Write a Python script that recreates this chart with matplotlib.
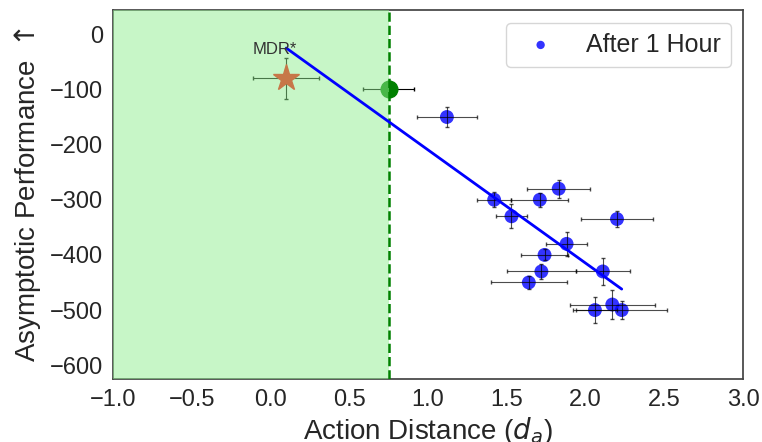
import numpy as np
import matplotlib
matplotlib.use("Agg")
import matplotlib.pyplot as plt
import seaborn as sns

# measurements after 1 hour
dist_x = [1.12, 1.42, 1.71, 1.53, 1.83, 2.20, 1.88, 1.74, 1.72, 2.11, 1.64, 2.17, 2.06, 2.23]
perf_y = [-150, -300, -300, -330, -280, -335, -380, -400, -430, -430, -450, -490, -500, -500]
dist_err = [0.19, 0.11, 0.18, 0.10, 0.20, 0.23, 0.13, 0.15, 0.22, 0.17, 0.24, 0.27, 0.14, 0.29]
perf_err = [18, 14, 13, 22, 16, 14, 22, 10, 14, 25, 12, 26, 24, 17]

# threshold point and MDR* reference
thr_x, thr_y, thr_xerr, thr_yerr = 0.75, -100, 0.16, 8
mdr_x, mdr_y, mdr_xerr, mdr_yerr = 0.1, -80, 0.21, 37

# fitted trend line end points
fit_x = [0.1, 2.23]
fit_y = [-25, -462]

sns.set_style("white")
plt.rcParams["font.family"] = ["Liberation Sans", "DejaVu Sans"]

fig = plt.figure(figsize=(7.62, 4.42), dpi=100)
ax = fig.add_axes([113 / 762, 1 - 379 / 442, 630 / 762, 369 / 442])

ax.errorbar(mdr_x, mdr_y, xerr=mdr_xerr, yerr=mdr_yerr, fmt="*", color="red",
            ms=20, ecolor="k", elinewidth=0.8, capsize=1.5, zorder=2)
ax.errorbar(thr_x, thr_y, xerr=thr_xerr, yerr=thr_yerr, fmt="o", color="green",
            ms=12, ecolor="k", elinewidth=0.8, capsize=1.5, zorder=2)
ax.errorbar(dist_x, perf_y, xerr=dist_err, yerr=perf_err, fmt="none",
            ecolor="k", elinewidth=0.8, capsize=1.5, alpha=0.7, zorder=3)
ax.scatter(dist_x, perf_y, s=100, color="blue", alpha=0.8, edgecolor="none",
           label="After 1 Hour", zorder=2.5)

ax.axvspan(-1.0, thr_x, color="lightgreen", alpha=0.5, lw=0, zorder=2.8)
ax.axvline(thr_x, color="green", ls="--", lw=1.8, zorder=4)
ax.plot(fit_x, fit_y, color="blue", lw=2, zorder=5)
ax.text(0.025, -27, "MDR*", fontsize=12, color="#333333", ha="center", va="center", zorder=6)

ax.set_xlim(-1.0, 3.0)
ax.set_ylim(-625, 44)
ax.set_xticks(np.arange(-1.0, 3.01, 0.5))
ax.set_yticks(np.arange(-600, 1, 100))
ax.tick_params(labelsize=17, length=0, pad=7, colors="#262626")
ax.set_xlabel("Action Distance ($d_a$)", fontsize=20, color="#262626", labelpad=3)
ax.set_ylabel("Asymptotic Performance $\\uparrow$", fontsize=20, color="#262626", labelpad=5)
for s in ax.spines.values():
    s.set_color("#444444")
    s.set_linewidth(1.25)

ax.legend(loc="upper right", fontsize=18, markerscale=0.6, frameon=True)

fig.savefig("out.png", dpi=100)
